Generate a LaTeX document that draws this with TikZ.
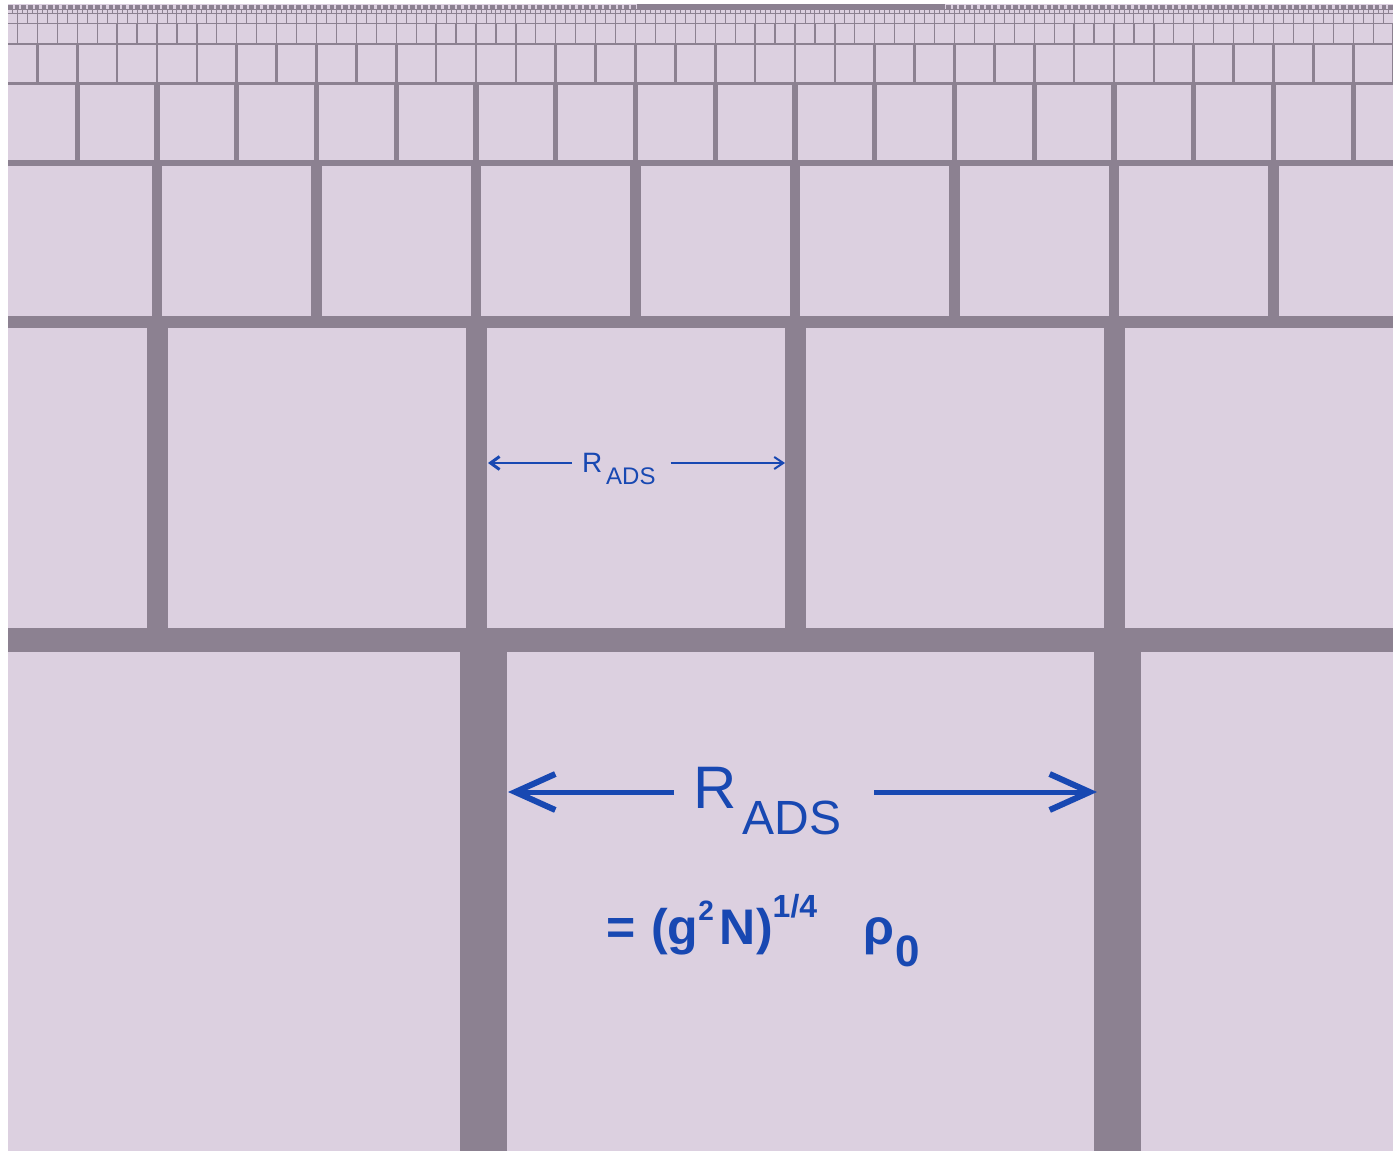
\documentclass[tikz,border=0pt]{standalone}
\usepackage{fontspec}
\setmainfont{Liberation Sans}
\usetikzlibrary{arrows.meta}
\definecolor{bg}{RGB}{220,208,224}
\definecolor{grid}{RGB}{140,129,145}
\definecolor{ink}{RGB}{24,72,178}
\tikzset{
  lbl/.style={text=ink, inner sep=0pt, outer sep=0pt},
  smallarrow/.style={draw=ink, line width=2.2pt},
  bigarrow/.style={draw=ink, line width=5pt},
  barfill/.style={fill=grid},
}
\begin{document}
\begin{tikzpicture}[x=1pt,y=-1pt]
\useasboundingbox (0,0) rectangle (1393,1151);
\fill[white] (0,0) rectangle (1393,1151);
\fill[bg] (8,4) rectangle (1393,1151);
\begin{scope}
\clip (8,4) rectangle (1393,1151);
% bottom row (row 0) bars
\fill[barfill] (460,640) rectangle (507,1151);
\fill[barfill] (1094,640) rectangle (1141,1151);
% rows k = 1..7 : boxes of width 638/2^k, height 636/2^k
\foreach \k in {1,...,7}{
  \pgfmathsetmacro\W{638/2^\k}
  \pgfmathsetmacro\yt{4+636/2^\k}
  \pgfmathsetmacro\yb{4+636/2^(\k-1)}
  \pgfmathsetmacro\t{max(42/2^\k,0.9)}
  \pgfmathtruncatemacro\mlo{-floor((476-8)/\W)}
  \pgfmathtruncatemacro\mhi{floor((1393-476)/\W)+1}
  \foreach \m in {\mlo,...,\mhi}{
    \pgfmathsetmacro\xc{476+\m*\W}
    \fill[barfill] (\xc-\t/2,\yt) rectangle (\xc+\t/2,\yb);
  }
}
% horizontal lines
\foreach \k in {0,...,7}{
  \pgfmathsetmacro\yy{4+636/2^\k}
  \pgfmathsetmacro\t{max(24/2^\k,0.9)}
  \fill[barfill] (8,\yy-\t/2) rectangle (1393,\yy+\t/2);
}
% finest top strip
\draw[grid, line width=4pt, dash pattern=on 4.5pt off 2.2pt] (8,7) -- (1393,7);
\fill[barfill] (637,4) rectangle (945,10);
\end{scope}

% small R_ADS
\node[lbl, anchor=base west] (rs) at (582,472)
  {\fontsize{28}{28}\selectfont R\hspace{4pt}\raisebox{-12pt}{\fontsize{24}{24}\selectfont ADS}};
\coordinate (rsL) at (488,463);
\coordinate (rsR) at (785,463);
\draw[smallarrow, -{Straight Barb[length=9pt,width=13pt,line width=3pt]}]
  (rsL -| rs.west) ++(-10,0) -- (rsL);
\draw[smallarrow, -{Straight Barb[length=9pt,width=12pt,line width=2pt]}]
  (rsR -| rs.east) ++(15,0) -- (rsR);

% big R_ADS
\node[lbl, anchor=base west] (rb) at (693,808)
  {\fontsize{60}{60}\selectfont R\hspace{6pt}\raisebox{-26pt}{\fontsize{48}{48}\selectfont ADS}};
\coordinate (rbL) at (508,792);
\coordinate (rbR) at (1097,792);
\draw[bigarrow, -{Straight Barb[length=40pt,width=36pt,line width=6pt]}]
  (rbL -| rb.west) ++(-19,0) -- (rbL);
\draw[bigarrow, -{Straight Barb[length=40pt,width=36pt,line width=6pt]}]
  (rbR -| rb.east) ++(33,0) -- (rbR);

% formula
\node[lbl, anchor=base west] (eq) at (606,944)
  {\fontsize{50}{50}\selectfont\bfseries =\hspace{16pt}(g\raisebox{24pt}{\fontsize{28}{28}\selectfont 2}\hspace{6pt}N)\raisebox{27pt}{\fontsize{32}{32}\selectfont 1/4}\hspace{46pt}ρ\hspace{1pt}\raisebox{-22pt}{\fontsize{44}{44}\selectfont 0}};
\end{tikzpicture}
\end{document}
